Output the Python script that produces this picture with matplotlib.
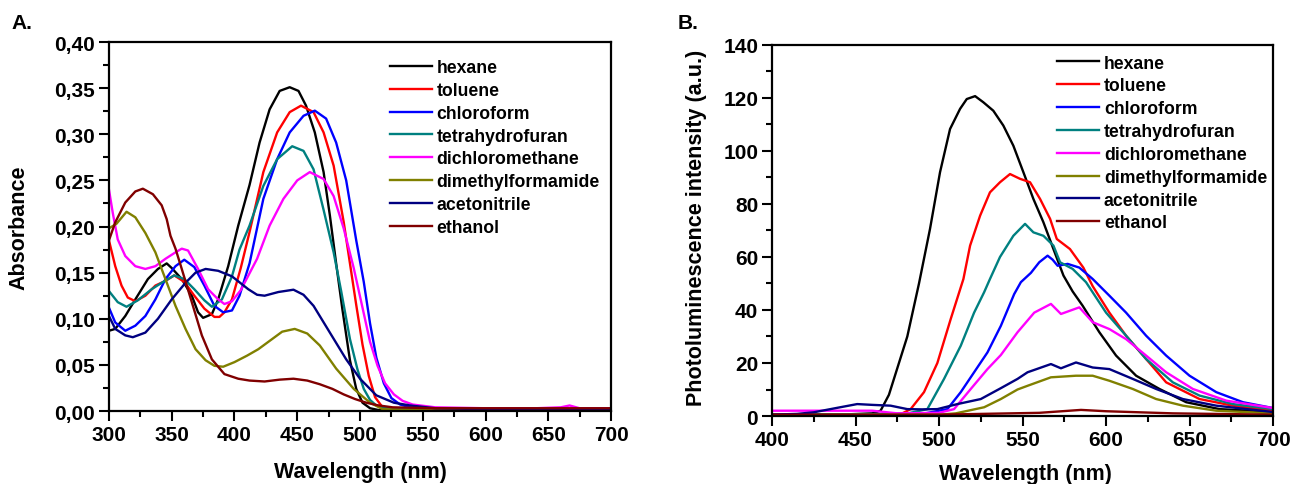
import matplotlib
matplotlib.use("Agg")
import matplotlib.pyplot as plt
from matplotlib.ticker import MultipleLocator, FuncFormatter

plt.rcParams['font.family'] = ['Liberation Sans', 'DejaVu Sans']
plt.rcParams['font.weight'] = 'bold'

solvents = ['hexane', 'toluene', 'chloroform', 'tetrahydrofuran',
            'dichloromethane', 'dimethylformamide', 'acetonitrile', 'ethanol']
colors = ['#000000', '#ff0000', '#0000ff', '#008080',
          '#ff00ff', '#808000', '#000080', '#800000']

# ---- A. absorbance (wavelength nm, absorbance) ----
abs_hexane_x = [300, 305, 313, 321, 331, 339, 346, 350, 358, 366, 371, 375, 382, 387, 395, 403, 412, 420, 428, 436, 444, 451, 457, 464, 471, 476, 481, 486, 492, 497, 502, 508, 515, 550, 600, 650, 700]
abs_hexane_y = [0.087, 0.089, 0.103, 0.121, 0.143, 0.154, 0.160, 0.155, 0.143, 0.125, 0.107, 0.101, 0.105, 0.121, 0.157, 0.201, 0.245, 0.291, 0.327, 0.347, 0.351, 0.347, 0.331, 0.302, 0.259, 0.212, 0.160, 0.110, 0.055, 0.024, 0.009, 0.003, 0.001, 0.001, 0.001, 0.002, 0.001]

abs_toluene_x = [300, 305, 310, 315, 321, 329, 337, 345, 352, 360, 368, 376, 384, 388, 392, 398, 405, 412, 423, 434, 444, 453, 463, 471, 479, 487, 492, 497, 502, 507, 512, 518, 525, 550, 600, 650, 700]
abs_toluene_y = [0.185, 0.157, 0.136, 0.123, 0.119, 0.125, 0.136, 0.141, 0.147, 0.140, 0.125, 0.111, 0.102, 0.102, 0.107, 0.121, 0.155, 0.194, 0.259, 0.302, 0.324, 0.331, 0.324, 0.302, 0.266, 0.205, 0.160, 0.115, 0.072, 0.038, 0.015, 0.004, 0.002, 0.002, 0.002, 0.002, 0.002]

abs_chloro_x = [300, 305, 313, 321, 329, 337, 345, 353, 360, 368, 376, 384, 391, 398, 404, 412, 423, 434, 444, 455, 464, 473, 481, 489, 497, 503, 508, 513, 519, 525, 532, 540, 560, 600, 650, 700]
abs_chloro_y = [0.112, 0.096, 0.087, 0.0925, 0.103, 0.121, 0.143, 0.157, 0.164, 0.156, 0.136, 0.114, 0.107, 0.109, 0.125, 0.160, 0.230, 0.273, 0.302, 0.320, 0.3256, 0.317, 0.291, 0.250, 0.185, 0.140, 0.095, 0.058, 0.030, 0.014, 0.007, 0.004, 0.002, 0.001, 0.001, 0.001]

abs_thf_x = [300, 307, 314, 323, 334, 342, 352, 360, 368, 376, 382, 390, 398, 404, 412, 423, 434, 446, 455, 463, 471, 479, 485, 492, 498, 503, 508, 513, 525, 550, 600, 650, 700]
abs_thf_y = [0.130, 0.118, 0.113, 0.120, 0.132, 0.139, 0.147, 0.143, 0.132, 0.120, 0.113, 0.121, 0.146, 0.175, 0.201, 0.244, 0.273, 0.287, 0.282, 0.262, 0.218, 0.172, 0.130, 0.078, 0.045, 0.024, 0.012, 0.006, 0.002, 0.002, 0.002, 0.002, 0.002]

abs_dcm_x = [300, 303, 307, 313, 321, 329, 337, 345, 353, 358, 363, 371, 379, 387, 392, 398, 405, 418, 428, 439, 450, 460, 471, 479, 487, 495, 502, 508, 514, 520, 527, 534, 542, 560, 600, 640, 660, 667, 675, 700]
abs_dcm_y = [0.240, 0.215, 0.186, 0.168, 0.157, 0.154, 0.157, 0.165, 0.172, 0.176, 0.174, 0.154, 0.132, 0.121, 0.116, 0.119, 0.131, 0.165, 0.201, 0.230, 0.250, 0.259, 0.2515, 0.233, 0.198, 0.155, 0.112, 0.075, 0.049, 0.030, 0.018, 0.011, 0.007, 0.004, 0.003, 0.003, 0.004, 0.006, 0.003, 0.003]

abs_dmf_x = [300, 306, 314, 321, 329, 337, 345, 353, 361, 369, 377, 384, 391, 400, 410, 419, 430, 438, 448, 458, 468, 481, 495, 508, 518, 550, 600, 650, 700]
abs_dmf_y = [0.198, 0.203, 0.216, 0.210, 0.193, 0.172, 0.143, 0.114, 0.089, 0.067, 0.055, 0.049, 0.048, 0.053, 0.060, 0.067, 0.078, 0.086, 0.089, 0.084, 0.071, 0.046, 0.024, 0.009, 0.002, 0.001, 0.001, 0.001, 0.001]

abs_acn_x = [300, 305, 313, 319, 329, 339, 350, 361, 369, 377, 387, 398, 411, 418, 424, 435, 447, 455, 463, 476, 489, 500, 513, 527, 540, 560, 600, 650, 700]
abs_acn_y = [0.103, 0.089, 0.082, 0.080, 0.085, 0.100, 0.121, 0.139, 0.150, 0.154, 0.152, 0.146, 0.132, 0.126, 0.125, 0.129, 0.1315, 0.126, 0.114, 0.085, 0.056, 0.035, 0.017, 0.009, 0.006, 0.003, 0.002, 0.002, 0.002]

abs_etoh_x = [300, 305, 313, 321, 327, 335, 342, 346, 349, 353, 358, 366, 374, 382, 392, 403, 412, 424, 436, 447, 458, 468, 478, 487, 496, 505, 515, 526, 560, 600, 650, 700]
abs_etoh_y = [0.185, 0.2045, 0.226, 0.238, 0.241, 0.235, 0.223, 0.208, 0.190, 0.176, 0.154, 0.118, 0.082, 0.056, 0.040, 0.035, 0.033, 0.032, 0.034, 0.035, 0.033, 0.029, 0.024, 0.018, 0.013, 0.009, 0.006, 0.004, 0.003, 0.003, 0.003, 0.003]

# ---- B. photoluminescence (wavelength nm, intensity a.u.) ----
pl_hexane_x = [400, 440, 460, 465, 470, 475, 481, 488, 494.6, 500.6, 506.6, 512.6, 516.6, 521.6, 526.5, 532.5, 538.5, 544.5, 550.5, 556.5, 562.5, 568.5, 574.5, 580, 586, 596, 606, 618, 632, 648, 668, 700]
pl_hexane_y = [0.5, 0.5, 1.0, 2, 8, 18, 30, 50, 70.6, 92, 108.3, 115.9, 119.6, 120.7, 118.4, 115.2, 109.6, 102, 92, 81.9, 73.1, 63, 53, 47, 41.6, 31.6, 22.8, 15.2, 10.2, 5.2, 2.6, 1.5]

pl_toluene_x = [400, 470, 478, 483, 491, 499, 507, 514.6, 518.6, 524.6, 530.5, 536.5, 542.5, 548.5, 554.5, 560.5, 566.5, 570.5, 578.4, 586.4, 592, 602, 612, 624, 636, 656, 676, 700]
pl_toluene_y = [0.5, 0.5, 1, 2.6, 9, 20, 36.6, 51.7, 64.3, 75.6, 84.4, 88.2, 91.3, 89.5, 88.2, 81.9, 74.4, 66.8, 63, 56, 49, 39, 30.3, 21.5, 12.7, 6.4, 3.9, 2]

pl_chloro_x = [400, 490, 505, 513, 521, 529, 537, 545, 549, 555, 560, 565, 568, 571, 577, 584, 592, 602, 612, 624, 636, 650, 666, 682, 700]
pl_chloro_y = [0.5, 0.8, 2.6, 9, 16.5, 24, 34, 46, 50.5, 54, 58, 60.5, 59, 56.7, 57.4, 56, 51.7, 45.4, 39, 30.3, 22.8, 15.2, 9, 5.2, 3]

pl_thf_x = [400, 480, 493, 503, 513, 521, 527, 530.5, 536.5, 544.5, 551.5, 556.5, 562.5, 568.5, 572.5, 580, 588, 600, 612, 624, 640, 656, 676, 700]
pl_thf_y = [0.5, 0.8, 2.6, 14, 26.5, 39, 46.7, 51.7, 60, 68, 72.5, 69.3, 68, 64.3, 58, 55.5, 50.5, 39, 30.3, 21.5, 12.7, 7.7, 4.5, 2.6]

pl_dcm_x = [400, 460, 475, 500, 509, 519, 529, 537, 547, 557, 567, 573, 584, 592, 602, 612, 624, 636, 652, 672, 700]
pl_dcm_y = [2, 2, 1, 1.2, 2.6, 10.2, 17.7, 23, 31.6, 39, 42.3, 38.5, 41, 35.4, 32.8, 29, 22.8, 16.5, 10.2, 5.8, 3]

pl_dmf_x = [400, 500, 510, 527, 537, 547, 553, 567, 582, 592, 602, 616, 630, 646, 666, 700]
pl_dmf_y = [0.5, 0.5, 1, 3.3, 6.4, 10, 11.4, 14.6, 15.2, 15.2, 13.3, 10.2, 6.4, 3.9, 2, 1]

pl_acn_x = [400, 415, 425, 440, 451, 460, 471, 481, 490, 499, 511, 525, 537, 547, 553, 567, 573, 582, 592, 602, 616, 630, 646, 666, 700]
pl_acn_y = [0.5, 0.8, 1.4, 3.2, 4.5, 4.2, 3.9, 2.6, 2.5, 2.6, 4.5, 6.4, 10.5, 14, 16.5, 19.6, 18, 20.2, 18.3, 17.7, 14, 10.2, 6.4, 3.9, 1.5]

pl_etoh_x = [400, 500, 560, 585, 600, 640, 700]
pl_etoh_y = [0.5, 0.5, 1.2, 2.3, 1.8, 1.0, 0.5]

abs_series = [(abs_hexane_x, abs_hexane_y), (abs_toluene_x, abs_toluene_y),
              (abs_chloro_x, abs_chloro_y), (abs_thf_x, abs_thf_y),
              (abs_dcm_x, abs_dcm_y), (abs_dmf_x, abs_dmf_y),
              (abs_acn_x, abs_acn_y), (abs_etoh_x, abs_etoh_y)]
pl_series = [(pl_hexane_x, pl_hexane_y), (pl_toluene_x, pl_toluene_y),
             (pl_chloro_x, pl_chloro_y), (pl_thf_x, pl_thf_y),
             (pl_dcm_x, pl_dcm_y), (pl_dmf_x, pl_dmf_y),
             (pl_acn_x, pl_acn_y), (pl_etoh_x, pl_etoh_y)]

fig = plt.figure(figsize=(12.91, 4.85), dpi=100)
axA = fig.add_axes([0.0844, 0.1505, 0.3889, 0.7608])
axB = fig.add_axes([0.598, 0.1402, 0.3881, 0.765])

for (x, y), c, name in zip(abs_series, colors, solvents):
    axA.plot(x, y, color=c, lw=1.7, label=name)
for (x, y), c, name in zip(pl_series, colors, solvents):
    axB.plot(x, y, color=c, lw=1.7, label=name)


def style(ax):
    for s in ax.spines.values():
        s.set_linewidth(1.6)
    ax.tick_params(which='both', direction='out', width=1.5, labelsize=15, pad=3,
                   top=False, right=False)
    ax.tick_params(which='major', length=7)
    ax.tick_params(which='minor', length=4)
    for lab in ax.get_xticklabels() + ax.get_yticklabels():
        lab.set_fontweight('bold')
    ax.legend(loc='upper left', frameon=False, handlelength=2.4,
              handletextpad=0.25, labelspacing=0.33, borderaxespad=0,
              prop={'weight': 'bold', 'size': 12.7})


axA.set_xlim(300, 700)
axA.set_ylim(0, 0.40)
axA.xaxis.set_major_locator(MultipleLocator(50))
axA.xaxis.set_minor_locator(MultipleLocator(25))
axA.yaxis.set_major_locator(MultipleLocator(0.05))
axA.yaxis.set_minor_locator(MultipleLocator(0.025))
axA.yaxis.set_major_formatter(FuncFormatter(lambda v, p: f"{v:.2f}".replace('.', ',')))
axA.set_xlabel('Wavelength (nm)', fontsize=15.5, fontweight='bold')
axA.set_ylabel('Absorbance', fontsize=15.5, fontweight='bold')
axA.xaxis.set_label_coords(0.5, -0.135)
axA.yaxis.set_label_coords(-0.158, 0.5)

axB.set_xlim(400, 700)
axB.set_ylim(0, 140)
axB.xaxis.set_major_locator(MultipleLocator(50))
axB.xaxis.set_minor_locator(MultipleLocator(25))
axB.yaxis.set_major_locator(MultipleLocator(20))
axB.yaxis.set_minor_locator(MultipleLocator(10))
axB.set_xlabel('Wavelength (nm)', fontsize=15.5, fontweight='bold')
axB.set_ylabel('Photoluminescence intensity (a.u.)', fontsize=15.5, fontweight='bold')
axB.xaxis.set_label_coords(0.505, -0.127)
axB.yaxis.set_label_coords(-0.13, 0.51)

style(axA)
style(axB)
axA.get_legend().set_bbox_to_anchor((0.545, 0.973))
axB.get_legend().set_bbox_to_anchor((0.555, 0.993))

fig.text(0.009, 0.972, 'A.', fontsize=15, fontweight='bold', va='top')
fig.text(0.525, 0.972, 'B.', fontsize=15, fontweight='bold', va='top')

fig.savefig('out.png', dpi=100)
